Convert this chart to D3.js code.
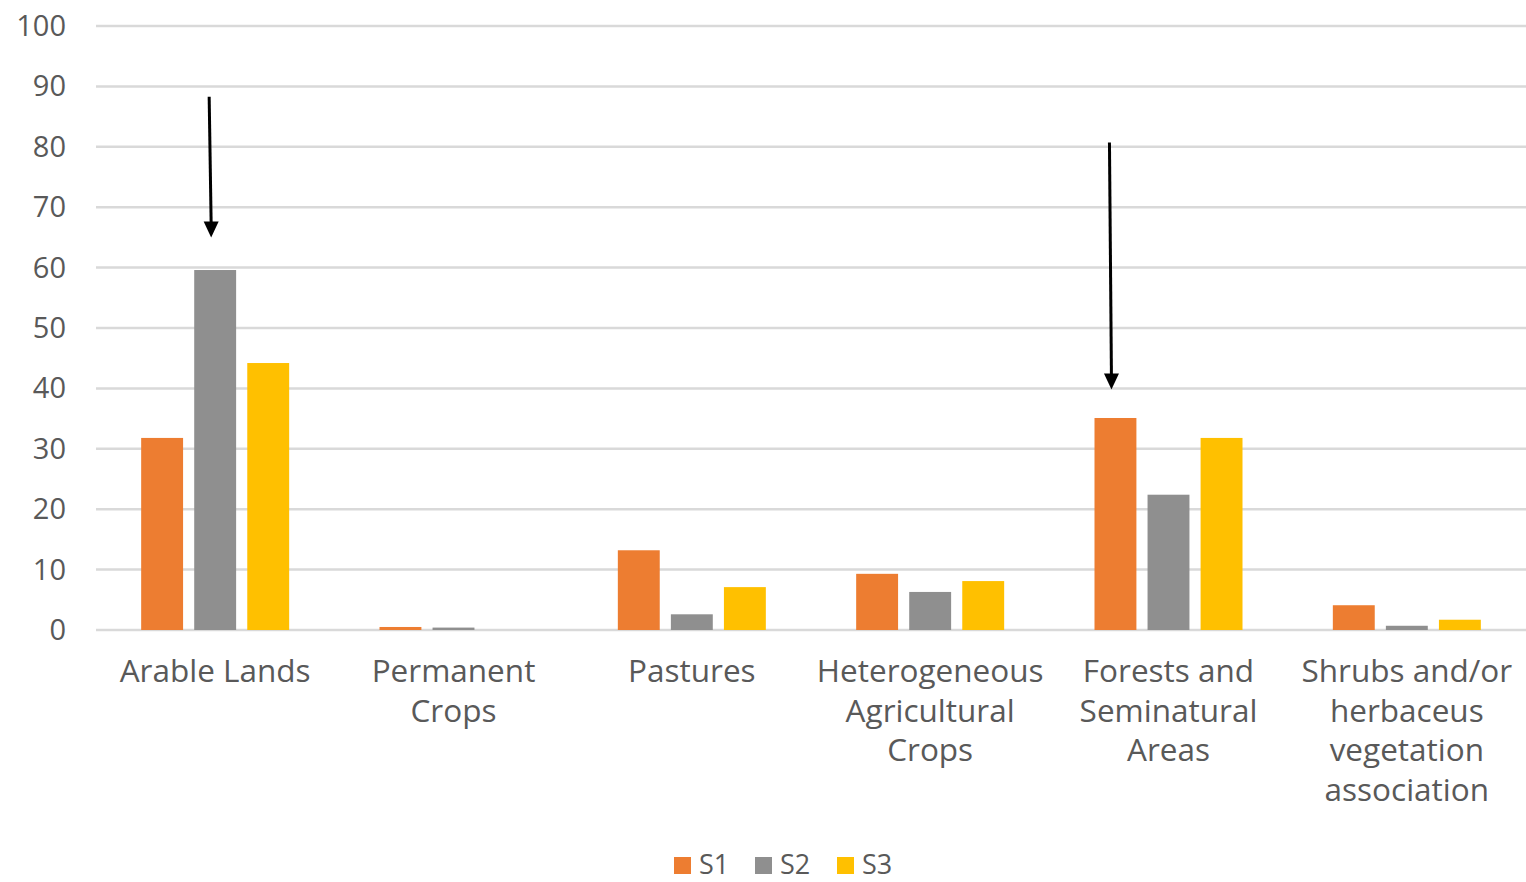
<!DOCTYPE html>
<html><head><meta charset="utf-8">
<script src="https://cdn.jsdelivr.net/npm/d3@7"></script>
<style>body{margin:0;background:#fff}svg{display:block}text{font-family:"Open Sans","Noto Sans",sans-serif}</style>
</head><body><svg id="c" width="1526" height="882"></svg>
<script>
const categories = [["Arable Lands"],["Permanent","Crops"],["Pastures"],["Heterogeneous","Agricultural","Crops"],["Forests and","Seminatural","Areas"],["Shrubs and/or","herbaceus","vegetation","association"]];
const seriesNames = ["S1","S2","S3"];
const S1 = [31.8, 0.5, 13.2, 9.3, 35.1, 4.1];
const S2 = [59.6, 0.4, 2.6, 6.3, 22.4, 0.7];
const S3 = [44.2, 0, 7.1, 8.1, 31.8, 1.7];
const colors = ["#ed7d31","#8f8f8f","#ffc000"];
const yTicks = [0,10,20,30,40,50,60,70,80,90,100];
// arrows: [category index, series index, from value, to value]
const arrows = [[0, 1, 88.3, 65], [4, 0, 80.7, 39.8]];

const svg = d3.select("#c");
const x = d3.scaleBand().domain(d3.range(categories.length)).range([96,1526]);
const y = d3.scaleLinear().domain([0,100]).range([630,26]);
const GW = 148;
const xs = d3.scaleBand().domain(d3.range(3)).range([0,GW]).paddingInner(0.21);
const barX = (ci,si)=>x(ci)+x.bandwidth()/2-GW/2+xs(si);

const g = svg.append("g");
g.selectAll("line.grid").data(yTicks).join("line")
 .attr("x1",96).attr("x2",1526).attr("y1",d=>y(d)).attr("y2",d=>y(d))
 .attr("stroke","#d9d9d9").attr("stroke-width",2.5);
g.selectAll("text.yt").data(yTicks).join("text")
 .attr("x",66).attr("y",d=>y(d)+10).attr("text-anchor","end")
 .attr("font-size",29).attr("fill","#595959").text(d=>d);

const series = [S1,S2,S3];
series.forEach((vals,si)=>{
  g.selectAll("rect.s"+si).data(vals).join("rect")
   .attr("x",(d,i)=>barX(i,si))
   .attr("width",xs.bandwidth())
   .attr("y",d=>y(d)).attr("height",d=>Math.max(0,y(0)-y(d)))
   .attr("fill",colors[si]);
});

categories.forEach((lines,i)=>{
  const t = g.append("text").attr("text-anchor","middle").attr("font-size",31.5).attr("fill","#595959");
  lines.forEach((l,j)=>t.append("tspan").attr("x",x(i)+x.bandwidth()/2).attr("y",682+j*39.5).text(l));
});

arrows.forEach(a=>{
  const cx = barX(a[0],a[1])+xs.bandwidth()/2-5;
  const tip = y(a[3]);
  g.append("line").attr("x1",cx-1).attr("x2",cx+1).attr("y1",y(a[2])).attr("y2",tip-12)
   .attr("stroke","#000").attr("stroke-width",3);
  g.append("path").attr("d",`M${cx+1-7.5},${tip-16}L${cx+1+7.5},${tip-16}L${cx+1},${tip}Z`).attr("fill","#000");
});

const lg = svg.append("g");
const lx = [674,755,837];
seriesNames.forEach((n,i)=>{
  lg.append("rect").attr("x",lx[i]).attr("y",857).attr("width",17).attr("height",17).attr("fill",colors[i]);
  lg.append("text").attr("x",lx[i]+25).attr("y",874).attr("font-size",27).attr("fill","#595959").text(n);
});
</script></body></html>
